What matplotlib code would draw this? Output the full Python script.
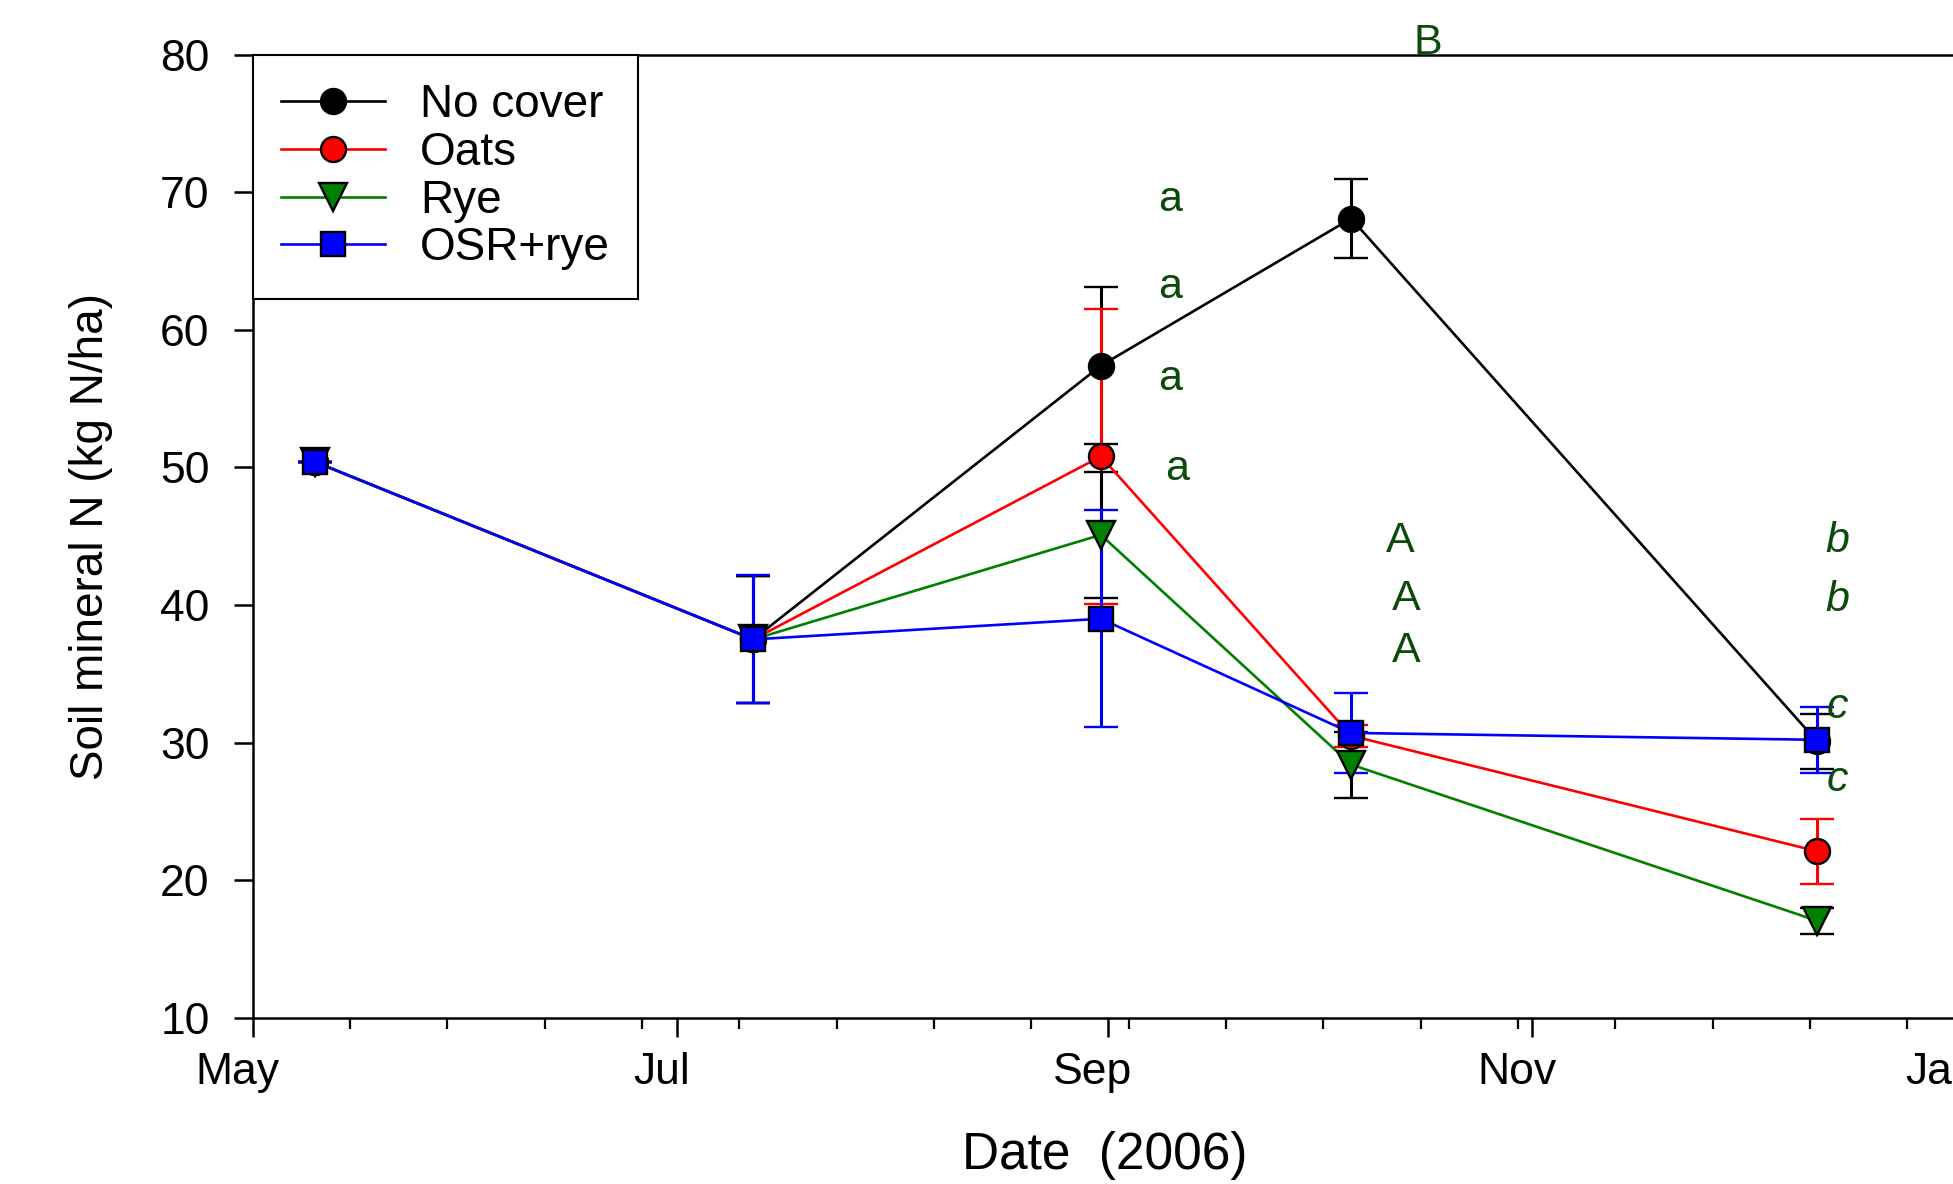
import numpy as np
import matplotlib
matplotlib.use("Agg")
import matplotlib.pyplot as plt
import matplotlib.dates as mdates
import matplotlib.transforms as mtransforms
from matplotlib.ticker import FixedLocator
from matplotlib.lines import Line2D

plt.rcParams['font.family'] = ['Liberation Sans', 'DejaVu Sans']

# ---- data ----
dates = np.array(['2006-05-10', '2006-07-12', '2006-08-31', '2006-10-06', '2006-12-12'],
                 dtype='datetime64[D]')
series_names = ['No cover', 'Oats', 'Rye', 'OSR+rye']
no_cover = [50.4, 37.5, 57.4, 68.1, 30.1]
no_cover_err = [0.0, 4.6, 5.7, 2.9, 2.0]
oats = [50.4, 37.5, 50.8, 30.5, 22.1]
oats_err = [0.0, 4.6, 10.7, 0.8, 2.35]
rye = [50.4, 37.5, 45.1, 28.4, 17.05]
rye_err = [0.0, 4.6, 4.6, 2.4, 0.95]
osr_rye = [50.4, 37.5, 39.0, 30.7, 30.2]
osr_rye_err = [0.0, 4.65, 7.9, 2.9, 2.4]

# significance letters: (text, date, y, italic)
letters = ['a', 'a', 'a', 'a', 'A', 'A', 'A', 'B', 'b', 'b', 'c', 'c']
letter_dates = np.array(['2006-09-10', '2006-09-10', '2006-09-10', '2006-09-11',
                         '2006-10-13', '2006-10-14', '2006-10-14', '2006-10-17',
                         '2006-12-15', '2006-12-15', '2006-12-15', '2006-12-15'],
                        dtype='datetime64[D]')
letter_y = [69.45, 63.1, 56.4, 49.9, 44.65, 40.45, 36.65, 80.85, 44.65, 40.35, 32.55, 27.25]
letter_italic = [False] * 8 + [True] * 4

colors = ['black', 'red', 'green', 'blue']
ecolors = ['black', 'red', 'black', 'blue']
markers = ['o', 'o', 'v', 's']
msizes = [18, 18, 20, 17]
values = [no_cover, oats, rye, osr_rye]
errors = [no_cover_err, oats_err, rye_err, osr_rye_err]

fig = plt.figure(figsize=(19.53, 11.84), dpi=100)
ax = fig.add_axes([0.1294, 0.1405, 0.8721, 0.8132])

xd = dates.astype('datetime64[ms]').astype(object)
for name, v, e, c, ec, m, ms in zip(series_names, values, errors, colors, ecolors, markers, msizes):
    ax.errorbar(xd, v, yerr=e, fmt='-', color=c, lw=1.9, marker=m, ms=ms,
                mfc=c, mec='black', mew=1.7, ecolor=ec, elinewidth=2.2,
                capsize=12, capthick=2.2, clip_on=False)

ldx = letter_dates.astype('datetime64[ms]').astype(object)
for t, d, y, it in zip(letters, ldx, letter_y, letter_italic):
    ax.text(d, y, t, color='#0b4a0b', fontsize=31, ha='center', va='center',
            style='italic' if it else 'normal', clip_on=False)

ax.set_xlim(np.datetime64('2006-05-01').astype(object), np.datetime64('2007-01-01').astype(object))
ax.set_ylim(10, 80)
ax.set_yticks(np.arange(10, 81, 10))
ax.xaxis.set_major_locator(mdates.MonthLocator(bymonth=[1, 3, 5, 7, 9, 11]))
ax.xaxis.set_major_formatter(mdates.DateFormatter('%b'))
start = mdates.date2num(np.datetime64('2006-05-01').astype(object))
ax.xaxis.set_minor_locator(FixedLocator(start + 14 * np.arange(1, 18)))

ax.tick_params(axis='both', which='major', labelsize=32, width=1.8, length=14, direction='out')
ax.tick_params(axis='x', which='major', pad=11)
ax.tick_params(axis='y', which='major', pad=17)
ax.tick_params(axis='x', which='minor', width=1.6, length=8, direction='out')
for s in ax.spines.values():
    s.set_linewidth(1.8)

shift = mtransforms.ScaledTranslation(-0.15, 0, fig.dpi_scale_trans)
for lab in ax.get_xticklabels():
    lab.set_transform(lab.get_transform() + shift)

ax.set_xlabel('Date  (2006)', fontsize=37, labelpad=27)
ax.set_ylabel('Soil mineral N (kg N/ha)', fontsize=33, labelpad=34)

handles = [Line2D([], [], color=c, lw=1.9, marker=m, ms=ms, mfc=c, mec='black', mew=1.7)
           for c, m, ms in zip(colors, markers, msizes)]
leg = ax.legend(handles, series_names, loc='upper left', fontsize=33, frameon=True,
                fancybox=False, framealpha=1, edgecolor='black', borderaxespad=0,
                borderpad=0.62, handlelength=2.27, handletextpad=0.76, labelspacing=0.08)
leg.get_frame().set_linewidth(1.5)

fig.savefig('out.png', dpi=100)
